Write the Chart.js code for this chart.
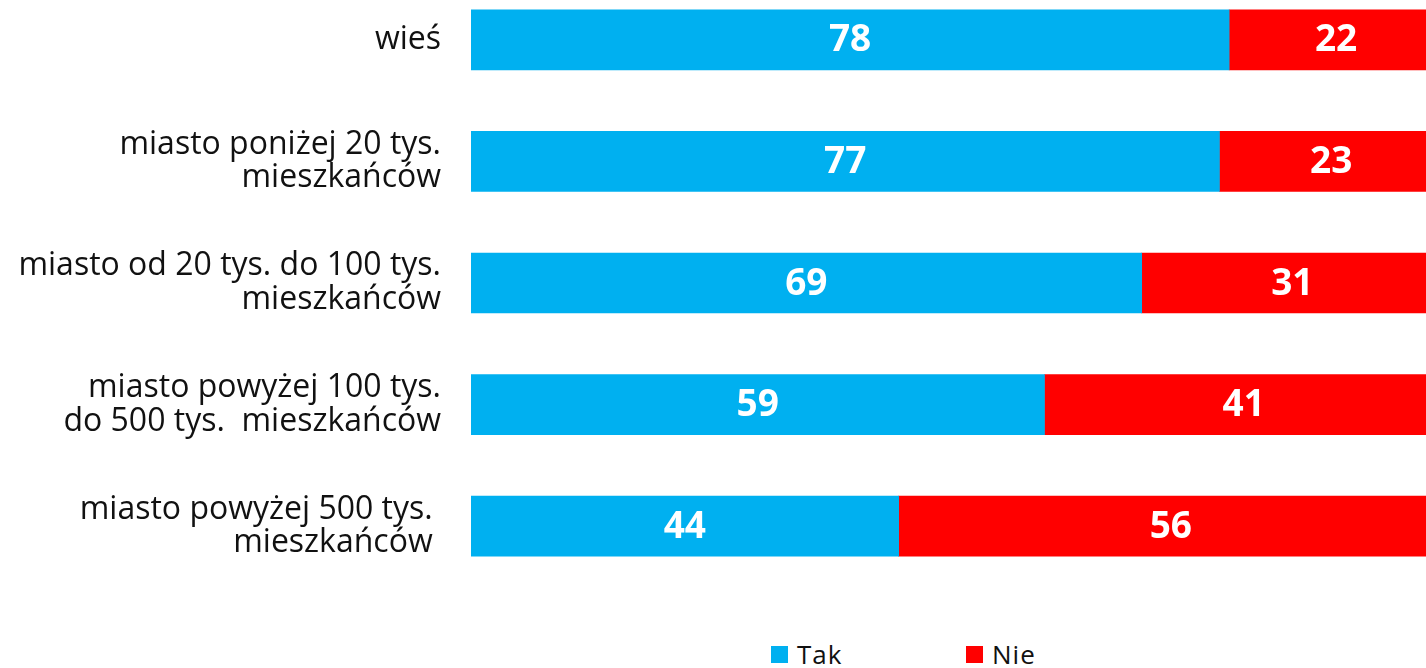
<!DOCTYPE html>
<html>
<head>
<meta charset="utf-8">
<script src="https://cdn.jsdelivr.net/npm/chart.js@4"></script>
<style>
    html, body { margin: 0; padding: 0; background: #fff; width: 1426px; height: 668px; overflow: hidden; }
    #wrap { position: absolute; left: 0; top: -21px; width: 1443px; height: 608px; }
    .legend { position: absolute; top: 640px; font-family: "Open Sans", sans-serif; font-size: 26px; color: #111; }
    .legend .item { position: absolute; white-space: nowrap; }
    .legend .box { position: absolute; top: 6px; width: 17px; height: 17px; }
    .legend .txt { position: absolute; left: 26px; top: -4px; letter-spacing: 1px; }
</style>
</head>
<body>
<div id="wrap"><canvas id="chart" width="1443" height="608"></canvas></div>
<div class="legend" id="legend"></div>
<script>
    // dane z wykresu
    const categories = [
        ['wieś'],
        ['miasto poniżej 20 tys.', 'mieszkańców'],
        ['miasto od 20 tys. do 100 tys.', 'mieszkańców'],
        ['miasto powyżej 100 tys.', 'do 500 tys.  mieszkańców'],
        ['miasto powyżej 500 tys. ', 'mieszkańców ']
    ];
    const seriesNames = ['Tak', 'Nie'];
    const takValues = [78, 77, 69, 59, 44];
    const nieValues = [22, 23, 31, 41, 56];
    const colors = ['#00B0F0', '#FF0000'];

    // etykiety wartości na słupkach (bez pluginu datalabels)
    const valueLabels = {
        id: 'valueLabels',
        afterDatasetsDraw(chart) {
            const ctx = chart.ctx;
            ctx.save();
            ctx.fillStyle = '#fff';
            ctx.font = 'bold 37px "Open Sans", sans-serif';
            ctx.textAlign = 'center';
            ctx.textBaseline = 'middle';
            chart.data.datasets.forEach((ds, di) => {
                const meta = chart.getDatasetMeta(di);
                meta.data.forEach((bar, i) => {
                    const x = (bar.x + bar.base) / 2;
                    ctx.fillText(String(ds.data[i]), x, bar.y + 1);
                });
            });
            ctx.restore();
        }
    };

    const ctx = document.getElementById('chart').getContext('2d');
    new Chart(ctx, {
        type: 'bar',
        data: {
            labels: categories,
            datasets: [
                { label: seriesNames[0], data: takValues, backgroundColor: colors[0] },
                { label: seriesNames[1], data: nieValues, backgroundColor: colors[1] }
            ]
        },
        options: {
            indexAxis: 'y',
            responsive: false,
            animation: false,
            devicePixelRatio: 1,
            layout: { padding: 0 },
            datasets: { bar: { barThickness: 60, borderWidth: 0 } },
            plugins: {
                legend: { display: false },
                tooltip: { enabled: false }
            },
            scales: {
                x: {
                    stacked: true,
                    min: 0,
                    max: 100,
                    display: false
                },
                y: {
                    stacked: true,
                    grid: { display: false, drawTicks: false },
                    border: { display: false },
                    ticks: {
                        color: '#111',
                        padding: 30,
                        font: { family: '"Open Sans", sans-serif', size: 32, lineHeight: 1.05 }
                    },
                    afterFit(scale) {
                        scale.width = 471;
                        scale.paddingTop = 0;
                        scale.paddingBottom = 0;
                    }
                }
            }
        },
        plugins: [valueLabels]
    });

    // legenda HTML
    const legendLeft = [771, 966];
    const legendEl = document.getElementById('legend');
    seriesNames.forEach((name, i) => {
        const item = document.createElement('div');
        item.className = 'item';
        item.style.left = legendLeft[i] + 'px';
        item.innerHTML = '<span class="box" style="background:' + colors[i] + '"></span><span class="txt">' + name + '</span>';
        legendEl.appendChild(item);
    });
</script>
</body>
</html>
